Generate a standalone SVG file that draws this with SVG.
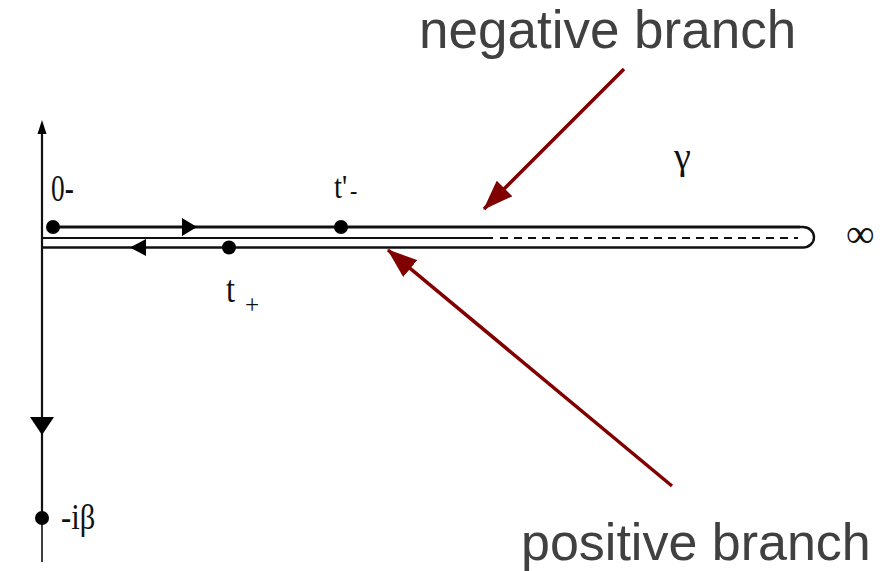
<svg xmlns="http://www.w3.org/2000/svg" width="892" height="571" viewBox="0 0 892 571">
<style>
.ln{stroke:#111;fill:none}
.dot{fill:#000}
.math{font-family:"Liberation Serif","Times New Roman",serif;fill:#111}
.lbl{font-family:"Liberation Sans",Arial,sans-serif;fill:#404040}
.red{stroke:#800000;stroke-width:3.5;fill:none}
.tri{fill:#000}
</style>
<defs>
<marker id="rh" markerUnits="userSpaceOnUse" viewBox="0 -11 30 22" refX="29" refY="0" markerWidth="30" markerHeight="22" orient="auto">
<path d="M0,-11 L30,0 L0,11 z" fill="#800000"/>
</marker>
</defs>
<rect width="892" height="571" fill="#fff"/>
<g id="axis">
<line class="ln" x1="42" y1="126" x2="42" y2="520" stroke-width="2.2"/>
<line class="ln" x1="42" y1="520" x2="42" y2="562" stroke-width="1.6"/>
<path class="tri" d="M42,120 L37.5,134 L46.5,134 z"/>
<path class="tri" d="M30,417 L54,417 L42,435 z"/>
</g>
<g id="contour">
<line class="ln" x1="53" y1="227" x2="800" y2="227" stroke-width="3" stroke="#2a2a2a"/>
<line class="ln" x1="42" y1="238" x2="493" y2="238" stroke-width="1.8"/>
<line class="ln" x1="500" y1="238" x2="798" y2="238" stroke-width="1.8" stroke-dasharray="8 6"/>
<line class="ln" x1="42" y1="247.5" x2="800" y2="247.5" stroke-width="2.6" stroke="#2a2a2a"/>
<path class="ln" d="M800,227 L803,227 A11,10.25 0 0 1 803,247.5 L800,247.5" stroke-width="2.4"/>
<path class="tri" d="M197,227 L182,218 L182,236 z"/>
<path class="tri" d="M130,247.5 L146,239 L146,256 z"/>
</g>
<g id="n-0minus">
<circle class="dot" cx="53" cy="227" r="7"/>
<text class="math" transform="translate(51,201) scale(0.72,1)" font-size="38">0-</text>
</g>
<g id="n-tprime">
<circle class="dot" cx="341" cy="227" r="7"/>
<text class="math" transform="translate(334,198) scale(0.85,1)" font-size="34">t'</text>
<text class="math" transform="translate(350,199) scale(0.85,1)" font-size="26">-</text>
</g>
<g id="n-tplus">
<circle class="dot" cx="229" cy="247.5" r="7"/>
<text class="math" transform="translate(226,302) scale(0.85,1)" font-size="38">t</text>
<text class="math" transform="translate(245,314) scale(0.9,1)" font-size="28">+</text>
</g>
<g id="n-ibeta">
<circle class="dot" cx="42" cy="518" r="7"/>
<text class="math" transform="translate(61,529) scale(0.85,1)" font-size="36">-iβ</text>
</g>
<g id="n-gamma">
<text class="math" x="674" y="169" font-size="38">γ</text>
</g>
<g id="n-inf">
<text class="math" x="846" y="247" font-size="40">∞</text>
</g>
<g id="connectors">
<line class="red" x1="624" y1="69" x2="484" y2="209" marker-end="url(#rh)"/>
<line class="red" x1="672" y1="486" x2="388" y2="250" marker-end="url(#rh)"/>
</g>
<g id="labels">
<text class="lbl" x="419" y="48" font-size="53">negative branch</text>
<text class="lbl" x="521" y="560" font-size="52">positive branch</text>
</g>
</svg>
